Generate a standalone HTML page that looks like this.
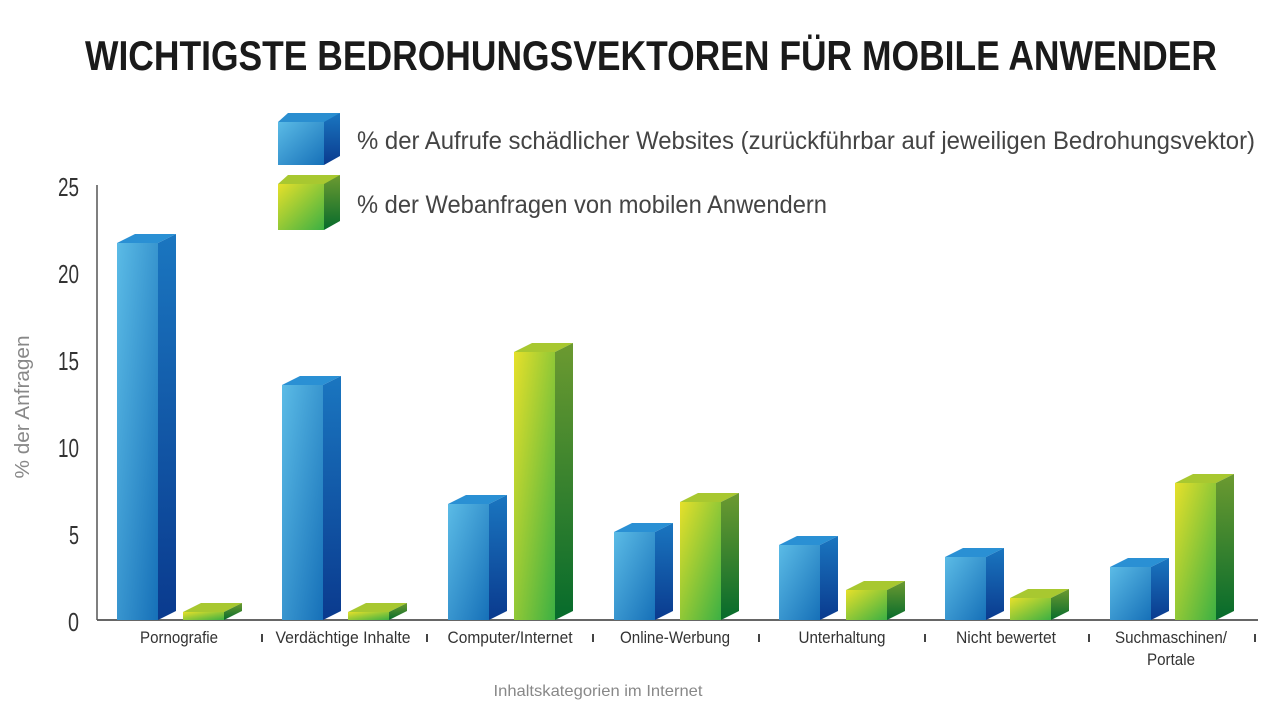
<!DOCTYPE html>
<html><head><meta charset="utf-8"><style>
html,body{margin:0;padding:0;background:#fff;width:1280px;height:719px;overflow:hidden}
text{font-family:"Liberation Sans Narrow","Liberation Sans",sans-serif}
</style></head><body>
<svg width="1280" height="719" viewBox="0 0 1280 719" xmlns="http://www.w3.org/2000/svg">
<defs>
<linearGradient id="bf" x1="0" y1="0" x2="1" y2="1"><stop offset="0" stop-color="#5bbbe6"/><stop offset="1" stop-color="#1670b8"/></linearGradient>
<linearGradient id="bs" x1="0" y1="0" x2="0" y2="1"><stop offset="0" stop-color="#1a76c0"/><stop offset="1" stop-color="#0a3a8e"/></linearGradient>
<linearGradient id="gf" x1="0" y1="0" x2="1" y2="1"><stop offset="0" stop-color="#e6e02a"/><stop offset="1" stop-color="#3cb043"/></linearGradient>
<linearGradient id="gs" x1="0" y1="0" x2="0" y2="1"><stop offset="0" stop-color="#6c9a30"/><stop offset="1" stop-color="#066b2c"/></linearGradient>
<linearGradient id="gl" x1="0" y1="0" x2="1" y2="0"><stop offset="0" stop-color="#555"/><stop offset="0.8" stop-color="#777"/><stop offset="1" stop-color="#ddd"/></linearGradient>
<linearGradient id="gl0" x1="0" y1="0" x2="1" y2="0"><stop offset="0" stop-color="#444"/><stop offset="1" stop-color="#fff"/></linearGradient>
</defs>
<text x="651" y="70" text-anchor="middle" font-size="42" font-weight="bold" fill="#1a1a1a" textLength="1132" lengthAdjust="spacingAndGlyphs">WICHTIGSTE BEDROHUNGSVEKTOREN FÜR MOBILE ANWENDER</text>
<g>
<polygon points="278,122 288,113 340,113 330,122" fill="#2a8ed0"/>
<rect x="278" y="122" width="46" height="43" fill="url(#bf)"/>
<polygon points="324,122 340,113 340,156 324,165" fill="url(#bs)"/>
<polygon points="278,184 288,175 340,175 330,184" fill="#a8c830"/>
<rect x="278" y="184" width="46" height="46" fill="url(#gf)"/>
<polygon points="324,184 340,175 340,221 324,230" fill="url(#gs)"/>
</g>
<text x="357" y="149" font-size="25" fill="#444" textLength="898" lengthAdjust="spacingAndGlyphs">% der Aufrufe schädlicher Websites (zurückführbar auf jeweiligen Bedrohungsvektor)</text>
<text x="357" y="213" font-size="25" fill="#444" textLength="470" lengthAdjust="spacingAndGlyphs">% der Webanfragen von mobilen Anwendern</text>
<line x1="97" y1="185" x2="245" y2="185" stroke="url(#gl0)" stroke-width="1.5"/>
<line x1="97" y1="272" x2="1255" y2="272" stroke="url(#gl)" stroke-width="1.5"/>
<line x1="97" y1="359" x2="1255" y2="359" stroke="url(#gl)" stroke-width="1.5"/>
<line x1="97" y1="446" x2="1255" y2="446" stroke="url(#gl)" stroke-width="1.5"/>
<line x1="97" y1="533" x2="1255" y2="533" stroke="url(#gl)" stroke-width="1.5"/>
<line x1="97" y1="620" x2="1258" y2="620" stroke="#666" stroke-width="2"/>
<line x1="97" y1="185" x2="97" y2="620" stroke="#555" stroke-width="1.5"/>
<g font-size="26" fill="#333" text-anchor="end">
<text x="79" y="196" textLength="21" lengthAdjust="spacingAndGlyphs">25</text>
<text x="79" y="283" textLength="21" lengthAdjust="spacingAndGlyphs">20</text>
<text x="79" y="370" textLength="21" lengthAdjust="spacingAndGlyphs">15</text>
<text x="79" y="457" textLength="21" lengthAdjust="spacingAndGlyphs">10</text>
<text x="79" y="544" textLength="10" lengthAdjust="spacingAndGlyphs">5</text>
<text x="79" y="631" textLength="11" lengthAdjust="spacingAndGlyphs">0</text>
</g>
<text transform="translate(29,407) rotate(-90)" font-size="20" fill="#888" text-anchor="middle" textLength="143" lengthAdjust="spacingAndGlyphs">% der Anfragen</text>
<g>
<polygon points="117,243 135,234 176,234 158,243" fill="#2a90d4"/><rect x="117" y="243" width="41" height="377" fill="url(#bf)"/><polygon points="158,243 176,234 176,611 158,620" fill="url(#bs)"/>
<polygon points="282,385 300,376 341,376 323,385" fill="#2a90d4"/><rect x="282" y="385" width="41" height="235" fill="url(#bf)"/><polygon points="323,385 341,376 341,611 323,620" fill="url(#bs)"/>
<polygon points="448,504 466,495 507,495 489,504" fill="#2a90d4"/><rect x="448" y="504" width="41" height="116" fill="url(#bf)"/><polygon points="489,504 507,495 507,611 489,620" fill="url(#bs)"/>
<polygon points="614,532 632,523 673,523 655,532" fill="#2a90d4"/><rect x="614" y="532" width="41" height="88" fill="url(#bf)"/><polygon points="655,532 673,523 673,611 655,620" fill="url(#bs)"/>
<polygon points="779,545 797,536 838,536 820,545" fill="#2a90d4"/><rect x="779" y="545" width="41" height="75" fill="url(#bf)"/><polygon points="820,545 838,536 838,611 820,620" fill="url(#bs)"/>
<polygon points="945,557 963,548 1004,548 986,557" fill="#2a90d4"/><rect x="945" y="557" width="41" height="63" fill="url(#bf)"/><polygon points="986,557 1004,548 1004,611 986,620" fill="url(#bs)"/>
<polygon points="1110,567 1128,558 1169,558 1151,567" fill="#2a90d4"/><rect x="1110" y="567" width="41" height="53" fill="url(#bf)"/><polygon points="1151,567 1169,558 1169,611 1151,620" fill="url(#bs)"/>
</g>
<g>
<polygon points="183,612 201,603 242,603 224,612" fill="#a8c830"/><rect x="183" y="612" width="41" height="8" fill="url(#gf)"/><polygon points="224,612 242,603 242,611 224,620" fill="url(#gs)"/>
<polygon points="348,612 366,603 407,603 389,612" fill="#a8c830"/><rect x="348" y="612" width="41" height="8" fill="url(#gf)"/><polygon points="389,612 407,603 407,611 389,620" fill="url(#gs)"/>
<polygon points="514,352 532,343 573,343 555,352" fill="#a8c830"/><rect x="514" y="352" width="41" height="268" fill="url(#gf)"/><polygon points="555,352 573,343 573,611 555,620" fill="url(#gs)"/>
<polygon points="680,502 698,493 739,493 721,502" fill="#a8c830"/><rect x="680" y="502" width="41" height="118" fill="url(#gf)"/><polygon points="721,502 739,493 739,611 721,620" fill="url(#gs)"/>
<polygon points="846,590 864,581 905,581 887,590" fill="#a8c830"/><rect x="846" y="590" width="41" height="30" fill="url(#gf)"/><polygon points="887,590 905,581 905,611 887,620" fill="url(#gs)"/>
<polygon points="1010,598 1028,589 1069,589 1051,598" fill="#a8c830"/><rect x="1010" y="598" width="41" height="22" fill="url(#gf)"/><polygon points="1051,598 1069,589 1069,611 1051,620" fill="url(#gs)"/>
<polygon points="1175,483 1193,474 1234,474 1216,483" fill="#a8c830"/><rect x="1175" y="483" width="41" height="137" fill="url(#gf)"/><polygon points="1216,483 1234,474 1234,611 1216,620" fill="url(#gs)"/>
</g>
<g stroke="#444" stroke-width="2">
<line x1="262" y1="634" x2="262" y2="642"/><line x1="427" y1="634" x2="427" y2="642"/><line x1="593" y1="634" x2="593" y2="642"/><line x1="759" y1="634" x2="759" y2="642"/><line x1="925" y1="634" x2="925" y2="642"/><line x1="1089" y1="634" x2="1089" y2="642"/><line x1="1255" y1="634" x2="1255" y2="642"/>
</g>
<g font-size="17" fill="#333" text-anchor="middle">
<text x="179" y="643" textLength="78" lengthAdjust="spacingAndGlyphs">Pornografie</text>
<text x="343" y="643" textLength="135" lengthAdjust="spacingAndGlyphs">Verdächtige Inhalte</text>
<text x="510" y="643" textLength="125" lengthAdjust="spacingAndGlyphs">Computer/Internet</text>
<text x="675" y="643" textLength="110" lengthAdjust="spacingAndGlyphs">Online-Werbung</text>
<text x="842" y="643" textLength="87" lengthAdjust="spacingAndGlyphs">Unterhaltung</text>
<text x="1006" y="643" textLength="100" lengthAdjust="spacingAndGlyphs">Nicht bewertet</text>
<text x="1171" y="643" textLength="112" lengthAdjust="spacingAndGlyphs">Suchmaschinen/</text>
<text x="1171" y="665" textLength="48" lengthAdjust="spacingAndGlyphs">Portale</text>
</g>
<text x="598" y="696" font-size="16" fill="#888" text-anchor="middle" textLength="209" lengthAdjust="spacingAndGlyphs">Inhaltskategorien im Internet</text>
</svg>
</body></html>
